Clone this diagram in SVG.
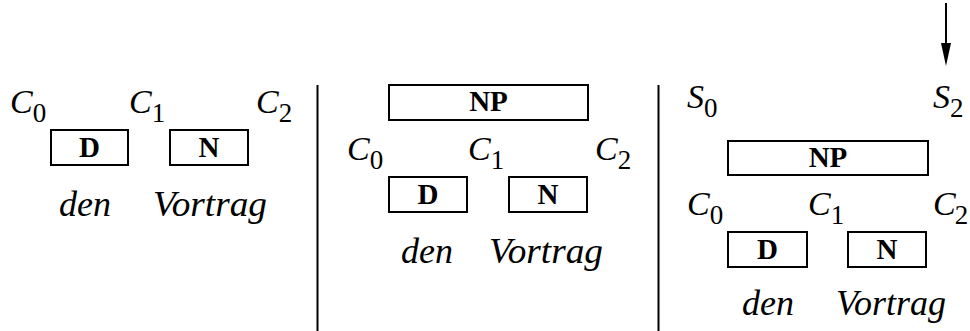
<svg xmlns="http://www.w3.org/2000/svg" width="970" height="331" viewBox="0 0 970 331">
<style>
.box{fill:#fff;stroke:#000;stroke-width:2}
.lab{font-family:"Liberation Serif",serif;font-weight:bold;font-size:29px;text-anchor:middle}
.it{font-family:"Liberation Serif",serif;font-style:italic;font-size:36px}
.var{font-family:"Liberation Serif",serif;font-style:italic;font-size:34px}
.sub{font-style:normal;font-size:27px}
.sep{stroke:#000;stroke-width:2}
</style>
<g id="connectors">
<line class="sep" x1="317.5" y1="85" x2="317.5" y2="331"/>
<line class="sep" x1="658.5" y1="85" x2="658.5" y2="331"/>
<line x1="946" y1="3" x2="946" y2="45" stroke="#000" stroke-width="2"/>
<path d="M941,43 L951,43 L946,66 Z" fill="#000"/>
</g>
<g id="panel1">
<text class="var" x="10" y="113">C<tspan class="sub" dy="9">0</tspan></text>
<text class="var" x="129" y="113">C<tspan class="sub" dy="9">1</tspan></text>
<text class="var" x="256" y="113">C<tspan class="sub" dy="9">2</tspan></text>
<g id="p1-D"><rect class="box" x="51" y="130" width="77" height="35"/><text class="lab" x="89.5" y="157">D</text></g>
<g id="p1-N"><rect class="box" x="170" y="130" width="78" height="35"/><text class="lab" x="209" y="157">N</text></g>
<text class="it" x="59" y="216">den</text>
<text class="it" x="153" y="216" textLength="114" lengthAdjust="spacingAndGlyphs">Vortrag</text>
</g>
<g id="panel2">
<g id="p2-NP"><rect class="box" x="389" y="85" width="199" height="35"/><text class="lab" x="488.5" y="111">NP</text></g>
<text class="var" x="347" y="160">C<tspan class="sub" dy="9">0</tspan></text>
<text class="var" x="468" y="160">C<tspan class="sub" dy="9">1</tspan></text>
<text class="var" x="595" y="160">C<tspan class="sub" dy="9">2</tspan></text>
<g id="p2-D"><rect class="box" x="389" y="177" width="78" height="35"/><text class="lab" x="428" y="204">D</text></g>
<g id="p2-N"><rect class="box" x="509" y="177" width="78" height="35"/><text class="lab" x="548" y="204">N</text></g>
<text class="it" x="401" y="263">den</text>
<text class="it" x="489" y="263" textLength="114" lengthAdjust="spacingAndGlyphs">Vortrag</text>
</g>
<g id="panel3">
<text class="var" x="687" y="108">S<tspan class="sub" dy="9">0</tspan></text>
<text class="var" x="933" y="108">S<tspan class="sub" dy="9">2</tspan></text>
<g id="p3-NP"><rect class="box" x="728" y="141" width="200" height="34"/><text class="lab" x="828" y="167">NP</text></g>
<text class="var" x="687" y="215">C<tspan class="sub" dy="9">0</tspan></text>
<text class="var" x="808" y="215">C<tspan class="sub" dy="9">1</tspan></text>
<text class="var" x="933" y="215">C<tspan class="sub" dx="-1" dy="9">2</tspan></text>
<g id="p3-D"><rect class="box" x="728" y="232" width="79" height="35"/><text class="lab" x="767.5" y="259">D</text></g>
<g id="p3-N"><rect class="box" x="848" y="232" width="78" height="35"/><text class="lab" x="887" y="259">N</text></g>
<text class="it" x="742" y="315">den</text>
<text class="it" x="836" y="315" textLength="110" lengthAdjust="spacingAndGlyphs">Vortrag</text>
</g>
</svg>
